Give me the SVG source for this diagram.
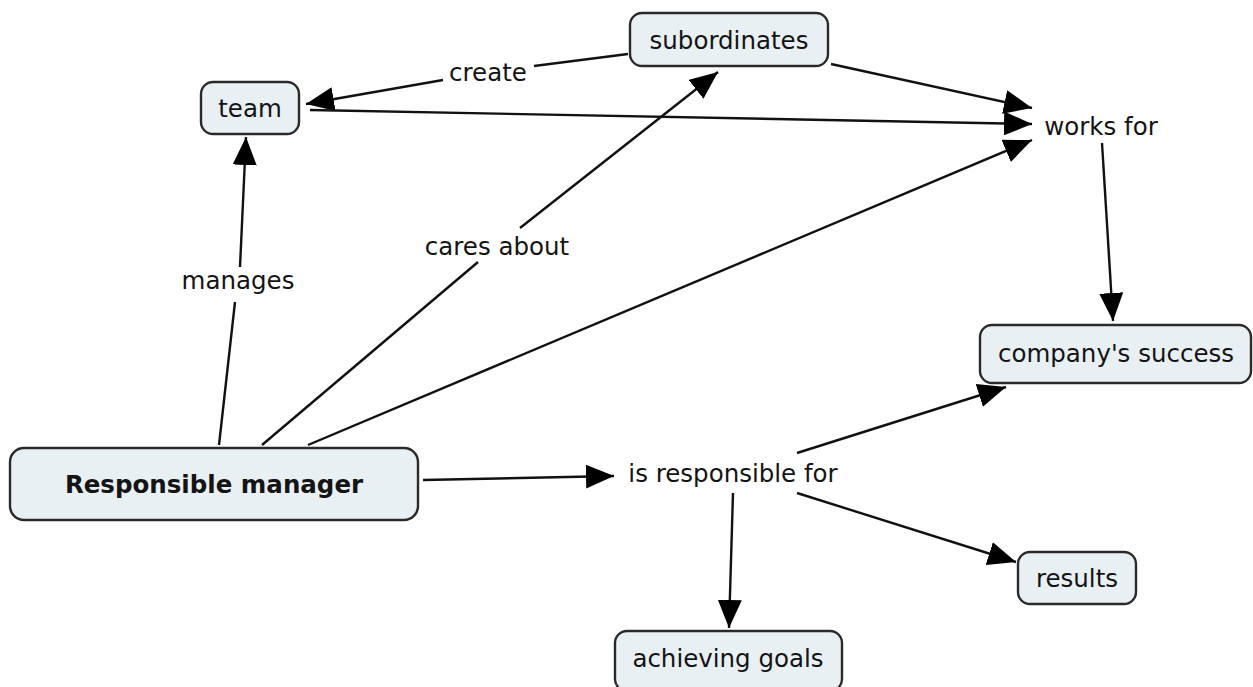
<svg xmlns="http://www.w3.org/2000/svg" width="1253" height="687" viewBox="0 0 1253 687">
<defs>
<style>
.box{fill:#e9f0f4;stroke:#2a2a2a;stroke-width:2.4}
.t{font-family:"DejaVu Sans",Verdana,sans-serif;font-size:24.5px;fill:#141414;text-anchor:middle}
.b{font-weight:bold}
.c{stroke:#111;stroke-width:2.4;fill:none}
.a{marker-end:url(#ah)}
</style>
<marker id="ah" markerUnits="userSpaceOnUse" markerWidth="28" markerHeight="24" refX="28" refY="12" orient="auto">
<path d="M0,0 L28,12 L0,24 z" fill="#000"/>
</marker>
</defs>
<rect width="1253" height="687" fill="#fff"/>
<g id="connectors">
<line class="c" x1="628" y1="54" x2="534" y2="66"/>
<line class="c a" x1="443" y1="80" x2="306" y2="104"/>
<line class="c a" x1="831" y1="64" x2="1032" y2="108"/>
<line class="c a" x1="310" y1="110" x2="1032" y2="124"/>
<line class="c a" x1="308" y1="445" x2="1032" y2="140"/>
<line class="c" x1="219" y1="445" x2="235" y2="302"/>
<line class="c a" x1="240" y1="267" x2="246" y2="137"/>
<line class="c" x1="262" y1="445" x2="478" y2="262"/>
<line class="c a" x1="520" y1="228" x2="718" y2="72"/>
<line class="c a" x1="1102" y1="143" x2="1113" y2="321"/>
<line class="c a" x1="423" y1="480" x2="614" y2="476"/>
<line class="c a" x1="797" y1="453" x2="1006" y2="387"/>
<line class="c a" x1="797" y1="493" x2="1016" y2="562"/>
<line class="c a" x1="733" y1="493" x2="729" y2="628"/>
</g>
<g id="labels">
<text class="t" x="488" y="81">create</text>
<text class="t" x="497" y="255">cares about</text>
<text class="t" x="238" y="289">manages</text>
<text class="t" x="1101" y="135">works for</text>
<text class="t" x="733" y="482">is responsible for</text>
</g>
<g id="node-team"><rect class="box" x="201" y="82" width="98" height="52" rx="12"/><text class="t" x="250" y="117">team</text></g>
<g id="node-subordinates"><rect class="box" x="630" y="13" width="198" height="53" rx="12"/><text class="t" x="729" y="49">subordinates</text></g>
<g id="node-company"><rect class="box" x="980" y="325" width="271" height="58" rx="12"/><text class="t" x="1116" y="362">company's success</text></g>
<g id="node-manager"><rect class="box" x="10" y="448" width="408" height="72" rx="14"/><text class="t b" x="214" y="493">Responsible manager</text></g>
<g id="node-results"><rect class="box" x="1018" y="552" width="118" height="52" rx="12"/><text class="t" x="1077" y="587">results</text></g>
<g id="node-goals"><rect class="box" x="615" y="631" width="227" height="60" rx="12"/><text class="t" x="728" y="667">achieving goals</text></g>
</svg>
